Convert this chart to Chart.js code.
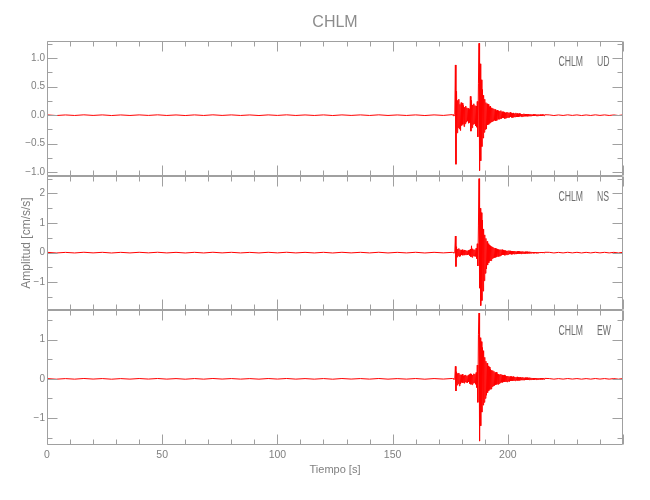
<!DOCTYPE html>
<html>
<head>
<meta charset="utf-8">
<title>CHLM</title>
<script src="https://cdn.jsdelivr.net/npm/chart.js@4.4.1/dist/chart.umd.min.js"></script>
<style>
  html, body { margin: 0; padding: 0; background: #fff; }
  #wrap { width: 650px; height: 500px; }
</style>
</head>
<body>
<div id="wrap"><canvas id="seisChart" width="650" height="500"></canvas></div>
<script>
// station / components
const station = 'CHLM'
const components = ['UD', 'NS', 'EW']

// sampling of the three pieces of each trace (seconds)
const preStep = 4          // 0 .. 172
const eventStart = 176     // 176 .. 216
const eventStep = 0.25
const postStart = 218      // 218 .. 250
const postStep = 2

// UD  [cm/s/s]
const udPre = [
    0.005, -0.006, 0.004, -0.005, 0.006, -0.004, 0.005, -0.006, 0.004, -0.005, 0.005,
    -0.004, 0.006, -0.005, 0.004, -0.006, 0.005, -0.005, 0.006, -0.004, 0.005, -0.005,
    0.004, -0.006, 0.005, -0.004, 0.006, -0.005, 0.004, -0.005, 0.005, -0.006, 0.005,
    -0.004, 0.005, -0.005, 0.006, -0.005, 0.004, -0.005, 0.005, -0.006, 0.005, -0.004
]
const udEvent = [
    0.01, -0.01, 0.012, -0.008, 0.01, 0.88, -0.86, 0.42,
    -0.31, 0.26, -0.22, 0.28, -0.24, 0.19, -0.27, 0.22,
    -0.18, 0.21, -0.16, 0.17, -0.2, 0.14, -0.15, 0.16,
    -0.12, 0.13, -0.1, 0.12, -0.14, 0.11, -0.13, 0.33,
    -0.28, 0.26, -0.22, 0.18, -0.16, 0.2, -0.15, 0.17,
    -0.19, 0.16, -0.21, 0.24, -0.38, 0.55, 1.26, -0.97,
    0.9, -0.8, 0.62, -0.55, 0.45, -0.4, 0.35, -0.3,
    0.28, -0.25, 0.22, -0.24, 0.2, -0.17, 0.19, -0.16,
    0.15, -0.14, 0.16, -0.12, 0.13, -0.11, 0.12, -0.1,
    0.11, -0.09, 0.1, -0.1, 0.08, -0.09, 0.09, -0.07,
    0.08, -0.07, 0.07, -0.06, 0.08, -0.06, 0.06, -0.05,
    0.06, -0.05, 0.05, -0.06, 0.04, -0.05, 0.05, -0.04,
    0.05, -0.04, 0.04, -0.04, 0.05, -0.03, 0.04, -0.04,
    0.03, -0.04, 0.04, -0.03, 0.03, -0.03, 0.04, -0.03,
    0.03, -0.03, 0.025, -0.03, 0.03, -0.02, 0.025, -0.025,
    0.02, -0.025, 0.02, -0.02, 0.025, -0.02, 0.02, -0.018,
    0.02, -0.018, 0.015, -0.02, 0.018, -0.015, 0.016, -0.015,
    0.015, -0.014, 0.012, -0.015, 0.014, -0.012, 0.013, -0.012,
    0.012, -0.012, 0.01, -0.013, 0.011, -0.01, 0.012, -0.01,
    0.01, -0.011, 0.009, -0.01, 0.011, -0.009, 0.01, -0.01,
    0.008
]
const udPost = [0.005, -0.006, 0.004, -0.005, 0.006, -0.004, 0.005, -0.006, 0.004,
    -0.005, 0.006, -0.004, 0.005, -0.005, 0.004, -0.006, 0.005]

// NS
const nsPre = [
    0.01, -0.012, 0.008, -0.011, 0.012, -0.009, 0.01, -0.012, 0.009, -0.01, 0.011,
    -0.008, 0.012, -0.01, 0.009, -0.012, 0.01, -0.011, 0.012, -0.009, 0.01, -0.01,
    0.008, -0.011, 0.011, -0.009, 0.012, -0.01, 0.009, -0.011, 0.01, -0.012, 0.011,
    -0.009, 0.01, -0.01, 0.012, -0.011, 0.009, -0.01, 0.011, -0.012, 0.01, -0.009
]
const nsEvent = [
    0.01, -0.012, 0.01, -0.01, 0.012, 0.56, -0.47, 0.2,
    -0.15, 0.12, -0.1, 0.14, -0.13, 0.1, -0.12, 0.09,
    -0.08, 0.1, -0.09, 0.07, -0.08, 0.09, -0.07, 0.08,
    -0.07, 0.06, -0.08, 0.07, -0.06, 0.09, -0.1, 0.12,
    -0.14, 0.23, -0.16, 0.13, -0.11, 0.1, -0.12, 0.1,
    -0.13, 0.15, -0.2, 0.3, -0.45, 0.9, 2.5, -1.2,
    1.5, -1.79, 1.35, -1.62, 1.1, -1.3, 0.8, -0.95,
    0.6, -0.7, 0.48, -0.55, 0.38, -0.42, 0.3, -0.34,
    0.25, -0.28, 0.22, -0.27, 0.21, -0.2, 0.19, -0.18,
    0.16, -0.17, 0.15, -0.16, 0.13, -0.14, 0.12, -0.13,
    0.11, -0.12, 0.1, -0.11, 0.1, -0.09, 0.1, -0.08,
    0.09, -0.08, 0.07, -0.09, 0.07, -0.07, 0.06, -0.07,
    0.06, -0.06, 0.07, -0.05, 0.06, -0.05, 0.05, -0.06,
    0.05, -0.05, 0.04, -0.05, 0.05, -0.04, 0.04, -0.05,
    0.04, -0.04, 0.05, -0.035, 0.04, -0.04, 0.03, -0.04,
    0.035, -0.03, 0.04, -0.03, 0.03, -0.035, 0.03, -0.03,
    0.03, -0.025, 0.03, -0.03, 0.025, -0.025, 0.03, -0.02,
    0.025, -0.02, 0.022, -0.02, 0.02, -0.022, 0.018, -0.02,
    0.018, -0.02, 0.016, -0.018, 0.015, -0.016, 0.017, -0.015,
    0.015, -0.014, 0.016, -0.013, 0.014, -0.015, 0.012, -0.013,
    0.012
]
const nsPost = [0.01, -0.011, 0.008, -0.01, 0.011, -0.009, 0.01, -0.011, 0.009,
    -0.01, 0.011, -0.009, 0.01, -0.01, 0.009, -0.011, 0.01]

// EW
const ewPre = [
    0.007, -0.009, 0.006, -0.008, 0.009, -0.006, 0.007, -0.009, 0.006, -0.007, 0.008,
    -0.006, 0.009, -0.007, 0.006, -0.009, 0.007, -0.008, 0.009, -0.006, 0.007, -0.007,
    0.006, -0.008, 0.008, -0.006, 0.009, -0.007, 0.006, -0.008, 0.007, -0.009, 0.008,
    -0.006, 0.007, -0.007, 0.009, -0.008, 0.006, -0.007, 0.008, -0.009, 0.007, -0.006
]
const ewEvent = [
    0.01, -0.01, 0.012, -0.01, 0.01, 0.32, -0.31, 0.18,
    -0.16, 0.14, -0.12, 0.15, -0.18, 0.11, -0.13, 0.1,
    -0.09, 0.12, -0.1, 0.08, -0.11, 0.09, -0.08, 0.1,
    -0.09, 0.07, -0.1, 0.09, -0.08, 0.11, -0.12, 0.13,
    -0.14, 0.12, -0.15, 0.1, -0.11, 0.13, -0.1, 0.12,
    -0.14, 0.16, -0.22, 0.35, -0.6, 1.13, 1.68, -1.59,
    1.05, -1.2, 0.95, -0.85, 0.8, -0.67, 0.72, -0.6,
    0.55, -0.5, 0.45, -0.42, 0.4, -0.35, 0.33, -0.3,
    0.3, -0.27, 0.25, -0.26, 0.22, -0.2, 0.21, -0.18,
    0.19, -0.17, 0.16, -0.15, 0.17, -0.14, 0.13, -0.14,
    0.12, -0.12, 0.11, -0.1, 0.12, -0.09, 0.1, -0.09,
    0.09, -0.08, 0.1, -0.08, 0.08, -0.07, 0.07, -0.08,
    0.07, -0.06, 0.06, -0.07, 0.06, -0.05, 0.06, -0.05,
    0.05, -0.05, 0.06, -0.04, 0.05, -0.05, 0.04, -0.04,
    0.05, -0.04, 0.04, -0.04, 0.035, -0.04, 0.04, -0.03,
    0.035, -0.03, 0.04, -0.03, 0.03, -0.035, 0.03, -0.03,
    0.03, -0.025, 0.03, -0.03, 0.025, -0.025, 0.03, -0.02,
    0.025, -0.02, 0.022, -0.02, 0.02, -0.022, 0.018, -0.02,
    0.018, -0.02, 0.016, -0.018, 0.015, -0.016, 0.017, -0.015,
    0.015, -0.014, 0.016, -0.013, 0.014, -0.015, 0.012, -0.013,
    0.012
]
const ewPost = [0.007, -0.008, 0.006, -0.007, 0.008, -0.006, 0.007, -0.008, 0.006,
    -0.007, 0.008, -0.006, 0.007, -0.007, 0.006, -0.008, 0.007]

// axes
const timeRange = [0, 250]
const timeTicks = [0, 50, 100, 150, 200]
const udRange = [-1.06, 1.3]
const nsRange = [-1.95, 2.6]
const ewRange = [-1.69, 1.75]
const udTicks = [-1.0, -0.5, 0.0, 0.5, 1.0]
const nsTicks = [-1, 0, 1, 2]
const ewTicks = [-1, 0, 1]

const traceColor = '#ff0000'
const axisColor = '#a0a0a0'
const textColor = '#808080'
const fontFamily = "'Liberation Sans', Arial, sans-serif"

function buildTrace(pre, ev, post) {
    let pts = []
    pre.forEach((v, i) => pts.push({x: i * preStep, y: v}))
    ev.forEach((v, i) => pts.push({x: eventStart + i * eventStep, y: v}))
    post.forEach((v, i) => pts.push({x: postStart + i * postStep, y: v}))
    return pts
}

function fmtTick(v, digits) {
    return v.toFixed(digits).replace('-', '\u2212')
}

// one y scale per panel, stacked on the left
function panelScale(range, ticks, digits, weight, extra) {
    return Object.assign({
        type: 'linear',
        position: 'left',
        stack: 'panels',
        stackWeight: 1,
        weight: weight,
        min: range[0],
        max: range[1],
        grid: {display: false, drawTicks: false},
        border: {display: false},
        afterBuildTicks: s => { s.ticks = ticks.map(v => ({value: v})) },
        afterFit: s => { s.width = 47 },
        ticks: {
            color: textColor,
            padding: 2,
            font: {family: fontFamily, size: 10},
            callback: v => fmtTick(v, digits)
        }
    }, extra || {})
}

const panels = [
    {id: 'yUD', comp: components[0], ticks: udTicks, minor: 0.25},
    {id: 'yNS', comp: components[1], ticks: nsTicks, minor: 0.5},
    {id: 'yEW', comp: components[2], ticks: ewTicks, minor: 0.5}
]

// narrow lettering like the plotting package's stroke font
function narrowText(ctx, text, x, y, align) {
    ctx.save()
    ctx.translate(x, y)
    ctx.scale(0.62, 1)
    ctx.textAlign = align
    ctx.fillText(text, 0, 0)
    ctx.restore()
}

// boxes, inward ticks and station labels for every panel
const panelFrame = {
    id: 'panelFrame',
    afterDatasetsDraw(chart) {
        let ctx = chart.ctx
        let x = chart.scales.x
        let xl = Math.round(x.left) + 0.5
        let xr = Math.round(x.right) - 0.5
        ctx.save()
        ctx.strokeStyle = axisColor
        ctx.lineWidth = 1
        panels.forEach(p => {
            let y = chart.scales[p.id]
            let yt = Math.round(y.top) + 0.5
            let yb = Math.round(y.bottom) - 0.5
            ctx.beginPath()
            ctx.rect(xl, yt, xr - xl, yb - yt)
            // time ticks, top and bottom
            for (let t = timeRange[0]; t <= timeRange[1]; t += 10) {
                let px = Math.round(x.getPixelForValue(t)) + 0.5
                let len = t % 50 === 0 ? 10 : 5
                ctx.moveTo(px, yb); ctx.lineTo(px, yb - len)
                ctx.moveTo(px, yt); ctx.lineTo(px, yt + len)
            }
            // amplitude ticks, left and right
            let start = Math.ceil(y.min / p.minor) * p.minor
            for (let v = start; v <= y.max + 1e-9; v += p.minor) {
                let py = Math.round(y.getPixelForValue(v)) + 0.5
                let major = p.ticks.some(m => Math.abs(m - v) < 1e-6)
                let len = major ? 10 : 5
                ctx.moveTo(xl, py); ctx.lineTo(xl + len, py)
                ctx.moveTo(xr, py); ctx.lineTo(xr - len, py)
            }
            ctx.stroke()

            ctx.fillStyle = '#6e6e6e'
            ctx.font = '14px ' + fontFamily
            ctx.textBaseline = 'middle'
            let ty = y.top + 21
            narrowText(ctx, station, x.right - 40, ty, 'right')
            narrowText(ctx, p.comp, x.right - 26, ty, 'left')
        })
        ctx.restore()
    }
}

let chartobj = document.getElementById('seisChart')
let seisChart = new Chart(chartobj, {
    type: 'line',
    data: {
        datasets: [{
            label: station + ' ' + components[0],
            data: buildTrace(udPre, udEvent, udPost),
            yAxisID: 'yUD'
        }, {
            label: station + ' ' + components[1],
            data: buildTrace(nsPre, nsEvent, nsPost),
            yAxisID: 'yNS'
        }, {
            label: station + ' ' + components[2],
            data: buildTrace(ewPre, ewEvent, ewPost),
            yAxisID: 'yEW'
        }]
    },
    options: {
        responsive: false,
        animation: false,
        devicePixelRatio: 1,
        events: [],
        layout: {padding: {top: 0, right: 27, bottom: 0, left: 0}},
        elements: {
            line: {borderColor: traceColor, borderWidth: 1, tension: 0, fill: false},
            point: {radius: 0}
        },
        plugins: {
            legend: {display: false},
            tooltip: {enabled: false},
            title: {
                display: true,
                fullSize: false,
                text: station,
                color: '#8c8c8c',
                font: {family: fontFamily, size: 16, weight: 'normal'},
                padding: {top: 13.4, bottom: 8.4}
            }
        },
        scales: {
            x: {
                type: 'linear',
                min: timeRange[0],
                max: timeRange[1],
                grid: {display: false, drawTicks: false},
                border: {display: false},
                afterBuildTicks: s => { s.ticks = timeTicks.map(v => ({value: v})) },
                afterFit: s => { s.height = 55 },
                ticks: {
                    color: textColor,
                    padding: 4,
                    maxRotation: 0,
                    font: {family: fontFamily, size: 10.5}
                },
                title: {
                    display: true,
                    text: 'Tiempo [s]',
                    color: textColor,
                    font: {family: fontFamily, size: 11},
                    padding: {top: 0, bottom: 23.4}
                }
            },
            yUD: panelScale(udRange, udTicks, 1, 3),
            yNS: panelScale(nsRange, nsTicks, 0, 2, {
                title: {
                    display: true,
                    text: 'Amplitud [cm/s/s]',
                    color: textColor,
                    font: {family: fontFamily, size: 12},
                    padding: {top: 19.8, bottom: 0}
                }
            }),
            yEW: panelScale(ewRange, ewTicks, 0, 1)
        }
    },
    plugins: [panelFrame]
});
</script>
</body>
</html>
